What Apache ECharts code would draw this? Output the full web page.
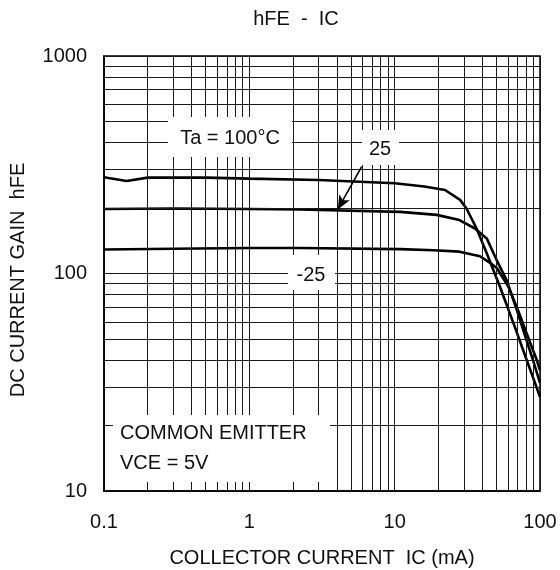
<!DOCTYPE html>
<html>
<head>
<meta charset="utf-8">
<script src="https://cdn.jsdelivr.net/npm/echarts@6/dist/echarts.min.js"></script>
<style>
html,body{margin:0;padding:0;background:#fff;}
#chart{width:560px;height:570px;}
</style>
</head>
<body>
<div id="chart"></div>
<script>
// ---- data ----
const xTickValues = [0.1, 1, 10, 100];
const xTickLabels = ['0.1', '1', '10', '100'];
const yTickValues = [10, 100, 1000];
const yTickLabels = ['10', '100', '1000'];
const xMinorGrid = [0.2,0.3,0.4,0.5,0.6,0.7,0.8,0.9, 2,3,4,5,6,7,8,9, 20,30,40,50,60,70,80,90];
const yMinorGrid = [20,30,40,50,60,70,80,90, 200,300,400,500,600,700,800,900];

const icT100  = [0.1, 0.143, 0.2, 0.5, 1, 3, 10, 16, 22.2, 28.2, 31.2, 36.6, 43, 53.1, 67, 81, 100];
const hfeT100 = [277, 266, 276, 276, 273, 269, 260, 251, 242, 218, 199, 161, 124, 86.7, 57, 40, 27.1];

const icT25  = [0.1, 0.3, 1, 2.23, 10.9, 19.5, 27.9, 35.7, 43, 50.4, 59, 69.2, 81, 89.5, 100];
const hfeT25 = [198, 199, 198, 197, 192, 186, 176, 161, 145, 115, 93, 68, 49, 40, 31.4];

const icTm25  = [0.1, 0.3, 1, 2.2, 10.9, 18.5, 27.9, 38.7, 45.3, 50.4, 60.6, 71, 81, 95, 100];
const hfeTm25 = [129, 130, 131, 131, 129.5, 128, 126, 120, 112, 106, 87, 67, 53, 40, 36];

const arrowFrom = [5.93, 310];
const arrowTo = [4.06, 197];

const FONT = '"Liberation Sans", Arial, sans-serif';
const pair = (xs, ys) => xs.map((x, i) => [x, ys[i]]);
const fmt = (vals, labels) => v => {
  const i = vals.findIndex(t => Math.abs(Math.log10(t) - Math.log10(v)) < 1e-6);
  return i >= 0 ? labels[i] : '';
};

const chart = echarts.init(document.getElementById('chart'), null, {renderer: 'canvas'});
const lineStyle = {color: '#000', width: 2.6};
const gridLine = {color: '#1a1a1a', width: 1, type: 'solid'};

chart.setOption({
  animation: false,
  backgroundColor: '#fff',
  grid: {left: 104, right: 20, top: 56, bottom: 79, show: true, borderColor: '#000', borderWidth: 1.5},
  xAxis: {
    type: 'log', logBase: 10, min: 0.1, max: 100,
    axisLine: {show: true, lineStyle: {color: '#000', width: 1.5}},
    axisTick: {show: false},
    splitLine: {show: true, lineStyle: gridLine},
    axisLabel: {color: '#111', fontFamily: FONT, fontSize: 20, lineHeight: 20, margin: 21, formatter: fmt(xTickValues, xTickLabels)}
  },
  yAxis: {
    type: 'log', logBase: 10, min: 10, max: 1000,
    axisLine: {show: true, lineStyle: {color: '#000', width: 1.5}},
    axisTick: {show: false},
    splitLine: {show: true, lineStyle: gridLine},
    axisLabel: {color: '#111', fontFamily: FONT, fontSize: 20, margin: 17, formatter: fmt(yTickValues, yTickLabels)}
  },
  series: [
    {
      type: 'line', name: 'grid', data: [], z: 1, silent: true,
      markLine: {
        silent: true, symbol: ['none', 'none'], label: {show: false},
        lineStyle: gridLine, emphasis: {disabled: true},
        data: [...xMinorGrid.map(v => ({xAxis: v})), ...yMinorGrid.map(v => ({yAxis: v}))]
      }
    },
    {type: 'line', name: 'Ta = 100°C', data: pair(icT100, hfeT100), showSymbol: false, symbol: 'none', lineStyle, z: 3},
    {
      type: 'line', name: '25', data: pair(icT25, hfeT25), showSymbol: false, symbol: 'none', lineStyle, z: 3,
      markLine: {
        silent: true, symbol: ['none', 'arrow'], symbolSize: [9, 14], label: {show: false},
        lineStyle: {color: '#000', width: 1.6, type: 'solid'}, emphasis: {disabled: true},
        data: [[{coord: arrowFrom}, {coord: arrowTo}]]
      }
    },
    {type: 'line', name: '-25', data: pair(icTm25, hfeTm25), showSymbol: false, symbol: 'none', lineStyle, z: 3}
  ],
  graphic: [
    {type: 'text', z: 20, x: 296, y: 19, style: {text: 'hFE  -  IC', font: '20px ' + FONT, fill: '#111', textAlign: 'center', textVerticalAlign: 'middle'}},
    {type: 'text', z: 20, x: 322, y: 558, style: {text: 'COLLECTOR CURRENT  IC (mA)', font: '20px ' + FONT, fill: '#111', textAlign: 'center', textVerticalAlign: 'middle'}},
    {type: 'text', z: 20, x: 18, y: 280, rotation: Math.PI / 2, style: {text: 'DC CURRENT GAIN  hFE', font: '20px ' + FONT, fill: '#111', textAlign: 'center', textVerticalAlign: 'middle'}},
    // annotation boxes
    {type: 'rect', z: 10, shape: {x: 168, y: 117, width: 124, height: 40}, style: {fill: '#fff'}},
    {type: 'text', z: 20, x: 230, y: 138, style: {text: 'Ta = 100°C', font: '20px ' + FONT, fill: '#111', textAlign: 'center', textVerticalAlign: 'middle'}},
    {type: 'rect', z: 10, shape: {x: 362, y: 130, width: 37, height: 35}, style: {fill: '#fff'}},
    {type: 'text', z: 20, x: 380, y: 149, style: {text: '25', font: '20px ' + FONT, fill: '#111', textAlign: 'center', textVerticalAlign: 'middle'}},
    {type: 'rect', z: 10, shape: {x: 288, y: 255, width: 47, height: 35}, style: {fill: '#fff'}},
    {type: 'text', z: 20, x: 311, y: 275, style: {text: '-25', font: '20px ' + FONT, fill: '#111', textAlign: 'center', textVerticalAlign: 'middle'}},
    {type: 'rect', z: 10, shape: {x: 113, y: 415, width: 217, height: 67}, style: {fill: '#fff'}},
    {type: 'text', z: 20, x: 120, y: 433, style: {text: 'COMMON EMITTER', font: '20px ' + FONT, fill: '#111', textAlign: 'left', textVerticalAlign: 'middle'}},
    {type: 'text', z: 20, x: 120, y: 463, style: {text: 'VCE = 5V', font: '20px ' + FONT, fill: '#111', textAlign: 'left', textVerticalAlign: 'middle'}}
  ]
});
</script>
</body>
</html>
